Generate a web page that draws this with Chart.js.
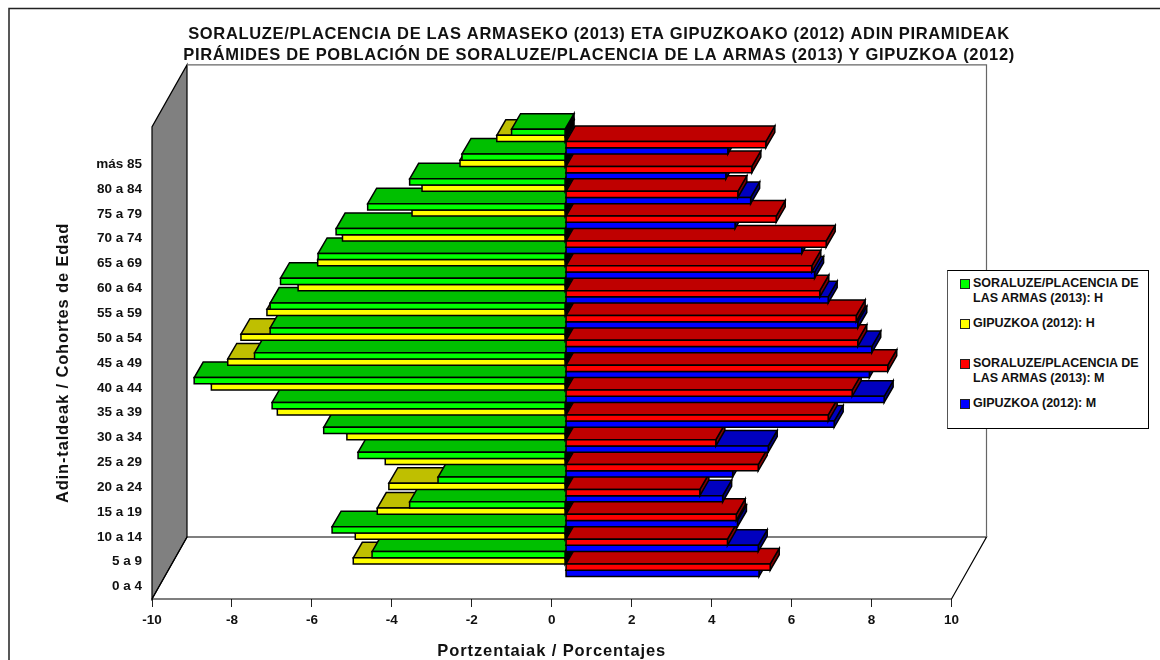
<!DOCTYPE html>
<html>
<head>
<meta charset="utf-8">
<script src="https://cdn.jsdelivr.net/npm/chart.js@4"></script>
<style>
    html, body { margin: 0; padding: 0; background: #fff; }
    #wrap { position: relative; width: 1160px; height: 660px; overflow: hidden; }
    #legend {
        position: absolute; left: 947px; top: 270px; width: 200px; height: 157px;
        background: #fff; border: 1px solid #000; border-left-color: #555; box-sizing: content-box;
        font: bold 12.5px "Liberation Sans", Arial, sans-serif; color: #111;
    }
    .item { position: absolute; left: 25px; width: 172px; line-height: 15px; }
    .swatch { position: absolute; left: -13px; top: 3px; width: 8px; height: 8px; border: 1px solid #222; }
</style>
</head>
<body>
<div id="wrap">
    <canvas id="chart" width="1160" height="660"></canvas>
    <div id="legend"></div>
</div>
<script>
const ageLabels = ['', 'más 85', '80 a 84', '75 a 79', '70 a 74', '65 a 69', '60 a 64', '55 a 59', '50 a 54',
    '45 a 49', '40 a 44', '35 a 39', '30 a 34', '25 a 29', '20 a 24', '15 a 19', '10 a 14', '5 a 9', '0 a 4'];

const soraluzeH = [null, -1.35, -2.59, -3.90, -4.95, -5.74, -6.19, -7.13, -7.39,
    -7.39, -7.78, -9.29, -7.34, -6.05, -5.19, -3.19, -3.90, -5.84, -4.84];
const gipuzkoaH = [null, -1.72, -2.64, -3.59, -3.84, -5.58, -6.20, -6.69, -7.47,
    -8.12, -8.45, -8.86, -7.21, -5.47, -4.51, -4.42, -4.71, -5.26, -5.31];
const soraluzeM = [null, 5.01, 4.66, 4.31, 5.27, 6.52, 6.16, 6.36, 7.27,
    7.31, 8.06, 7.17, 6.57, 3.76, 4.82, 3.36, 4.27, 4.05, 5.12];
const gipuzkoaM = [null, 4.06, 4.01, 4.63, 4.24, 5.91, 6.23, 6.57, 7.31,
    7.66, 7.60, 7.97, 6.72, 5.07, 4.18, 3.93, 4.30, 4.82, 4.84];

const seriesLabels = ['SORALUZE/PLACENCIA DE LAS ARMAS (2013): H', 'GIPUZKOA (2012): H',
    'SORALUZE/PLACENCIA DE LAS ARMAS (2013): M', 'GIPUZKOA (2012): M'];
const titleLines = ['SORALUZE/PLACENCIA DE LAS ARMASEKO (2013) ETA GIPUZKOAKO (2012) ADIN PIRAMIDEAK',
    'PIRÁMIDES DE POBLACIÓN DE SORALUZE/PLACENCIA DE LA ARMAS (2013) Y GIPUZKOA (2012)'];

const frontColors = ['#00ff00', '#ffff00', '#ff0000', '#0000ff'];
const topColors = ['#00bf00', '#bfbf00', '#bf0000', '#0000bf'];
const sideColors = ['#000000', '#000000', '#800000', '#000080'];

const FONT = '"Liberation Sans", Arial, sans-serif';
const WALL_DX = 35, WALL_DY = -62;   // depth of the whole box
const BAR_SHIFT_X = 13.8, BAR_SHIFT_Y = -22.6;   // where the bars sit inside the box
const BAR_DX = 9, BAR_DY = -15.5;    // depth of one bar

function poly(ctx, pts, fill) {
    ctx.beginPath();
    pts.forEach((p, i) => i ? ctx.lineTo(p[0], p[1]) : ctx.moveTo(p[0], p[1]));
    ctx.closePath();
    if (fill) { ctx.fillStyle = fill; ctx.fill(); }
    ctx.stroke();
}

// the reference text runs wider than the font does
function spaced(ctx, obj, method, spacing) {
    const draw = obj[method];
    obj[method] = function (...args) {
        ctx.letterSpacing = spacing;
        draw.apply(obj, args);
        ctx.letterSpacing = '0px';
    };
}

const box3d = {
    id: 'box3d',
    beforeInit: (chart) => { chart.$spaced = false; },
    afterLayout: (chart) => {
        // title is centred right of the plot middle
        chart.titleBlock.left += 123.3;
        chart.titleBlock.right += 123.3;
        if (!chart.$spaced) {
            chart.$spaced = true;
            spaced(chart.ctx, chart.titleBlock, 'draw', '0.67px');
            spaced(chart.ctx, chart.scales.x, 'drawTitle', '0.9px');
            spaced(chart.ctx, chart.scales.y, 'drawTitle', '0.85px');
        }
    },
    beforeDraw: (chart) => {
        const { ctx } = chart;
        ctx.save();
        ctx.strokeStyle = '#222';
        ctx.lineWidth = 1.5;
        ctx.strokeRect(9, 8.5, 1400, 900); // outer frame runs off the picture
        ctx.restore();
    },
    beforeDatasetsDraw: (chart) => {
        const { ctx, chartArea: a } = chart;
        ctx.save();
        ctx.lineJoin = 'miter';

        // left wall, floor, back wall
        ctx.strokeStyle = '#000';
        ctx.lineWidth = 1.2;
        poly(ctx, [[a.left, a.top], [a.left + WALL_DX, a.top + WALL_DY],
            [a.left + WALL_DX, a.bottom + WALL_DY], [a.left, a.bottom]], '#808080');
        poly(ctx, [[a.left, a.bottom], [a.right, a.bottom],
            [a.right + WALL_DX, a.bottom + WALL_DY], [a.left + WALL_DX, a.bottom + WALL_DY]]);
        ctx.strokeStyle = '#666';
        ctx.beginPath();
        ctx.moveTo(a.left + WALL_DX, a.top + WALL_DY);
        ctx.lineTo(a.right + WALL_DX, a.top + WALL_DY);
        ctx.lineTo(a.right + WALL_DX, a.bottom + WALL_DY);
        ctx.stroke();

        // bars, bottom row first so the upper ones lie over them
        ctx.strokeStyle = '#000';
        ctx.lineWidth = 1.5;
        const metas = chart.data.datasets.map((d, i) => chart.getDatasetMeta(i));
        for (let row = ageLabels.length - 1; row >= 0; row--) {
            for (let s = metas.length - 1; s >= 0; s--) {
                const bar = metas[s].data[row];
                if (chart.data.datasets[s].data[row] == null) continue;
                const { x, y, base, height } = bar.getProps(['x', 'y', 'base', 'height'], true);
                const l = Math.min(x, base) + BAR_SHIFT_X, r = Math.max(x, base) + BAR_SHIFT_X;
                const t = y - height / 2 + BAR_SHIFT_Y, b = y + height / 2 + BAR_SHIFT_Y;
                poly(ctx, [[r, t], [r + BAR_DX, t + BAR_DY], [r + BAR_DX, b + BAR_DY], [r, b]], sideColors[s]);
                poly(ctx, [[l, t], [l + BAR_DX, t + BAR_DY], [r + BAR_DX, t + BAR_DY], [r, t]], topColors[s]);
                poly(ctx, [[l, t], [r, t], [r, b], [l, b]], frontColors[s]);
            }
        }
        ctx.restore();
        return false;
    }
};

new Chart(document.getElementById('chart'), {
    type: 'bar',
    data: {
        labels: ageLabels,
        datasets: [
            { label: seriesLabels[0], data: soraluzeH, backgroundColor: frontColors[0] },
            { label: seriesLabels[1], data: gipuzkoaH, backgroundColor: frontColors[1] },
            { label: seriesLabels[2], data: soraluzeM, backgroundColor: frontColors[2] },
            { label: seriesLabels[3], data: gipuzkoaM, backgroundColor: frontColors[3] }
        ]
    },
    options: {
        indexAxis: 'y',
        responsive: false,
        animation: false,
        categoryPercentage: 1,
        barPercentage: 1,
        layout: { padding: { left: 0, right: 208.5, top: 0, bottom: 0 } },
        plugins: {
            legend: { display: false },
            tooltip: { enabled: false },
            title: {
                display: true,
                text: titleLines,
                color: '#111',
                font: { family: FONT, size: 16.5, weight: 'bold', lineHeight: 1.3 },
                padding: { top: 23.25, bottom: 60.75 }
            }
        },
        scales: {
            x: {
                min: -10,
                max: 10,
                afterFit: (scale) => { scale.height = 61; },
                ticks: { stepSize: 2, color: '#111', padding: 5, maxRotation: 0, font: { family: FONT, size: 13.5, weight: 'bold' } },
                grid: { drawOnChartArea: false, drawTicks: true, tickLength: 8, color: '#222' },
                border: { display: false },
                title: {
                    display: true,
                    text: 'Portzentaiak / Porcentajes',
                    color: '#111',
                    font: { family: FONT, size: 16.5, weight: 'bold' },
                    padding: { top: 0, bottom: -1 }
                }
            },
            y: {
                afterFit: (scale) => { scale.width = 152; },
                ticks: { color: '#111', padding: 10, autoSkip: false, font: { family: FONT, size: 13.5, weight: 'bold' } },
                grid: { display: false, drawTicks: false },
                border: { display: false },
                title: {
                    display: true,
                    text: 'Adin-taldeak / Cohortes de Edad',
                    color: '#111',
                    font: { family: FONT, size: 16.5, weight: 'bold' },
                    padding: { top: 54, bottom: 0 }
                }
            }
        }
    },
    plugins: [box3d]
});

// legend box: four entries with the fixed spacing of the reference
const legendBox = document.getElementById('legend');
seriesLabels.forEach((label, i) => {
    const item = document.createElement('div');
    item.className = 'item';
    item.style.top = (5 + i * 40) + 'px';
    const swatch = document.createElement('span');
    swatch.className = 'swatch';
    swatch.style.background = frontColors[i];
    item.appendChild(swatch);
    item.appendChild(document.createTextNode(label));
    legendBox.appendChild(item);
});
</script>
</body>
</html>
